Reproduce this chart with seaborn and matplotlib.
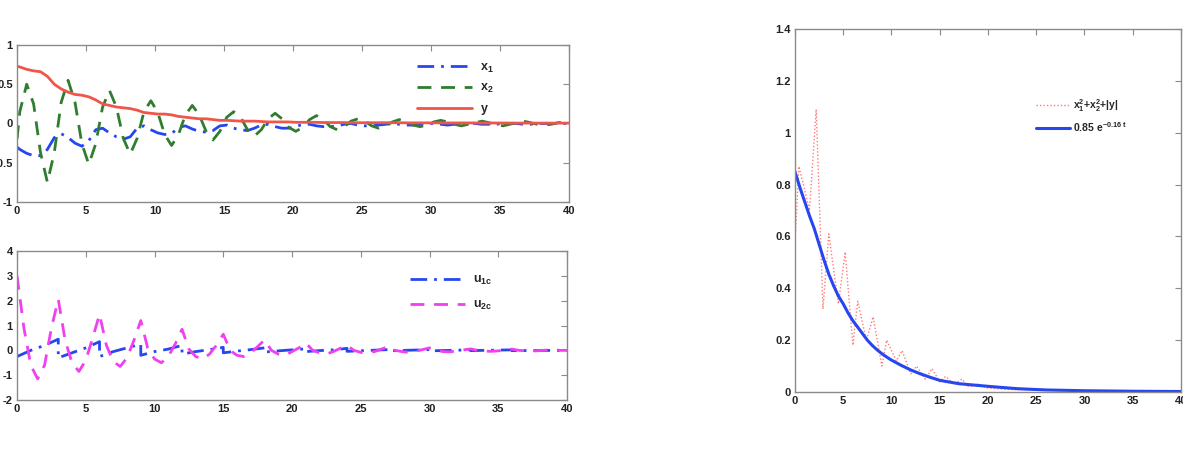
import numpy as np
import pandas as pd
import matplotlib
matplotlib.use('Agg')
import matplotlib.pyplot as plt
import seaborn as sns
from matplotlib.ticker import FormatStrFormatter

# Tempos do painel superior (picos do x2 caem na grade)
t_top = np.concatenate([[0], np.arange(0.2, 40, 0.5), [40]])

x1 = [-0.30, -0.33, -0.38, -0.41, -0.41, -0.33, -0.18, -0.13, -0.18, -0.25,
      -0.29, -0.22, -0.08, -0.06, -0.12, -0.17, -0.20, -0.17, -0.06, -0.03,
      -0.08, -0.12, -0.14, -0.13, -0.05, -0.03, -0.07, -0.10, -0.11, -0.09,
      -0.03, -0.02, -0.06, -0.08, -0.09, -0.06, -0.02, -0.01, -0.04, -0.06,
      -0.06, -0.04, -0.01, -0.01, -0.03, -0.04, -0.04, -0.03, -0.01, 0.00,
      -0.02, -0.03, -0.03, -0.02, -0.01, 0.00, -0.01, -0.02, -0.02, -0.01,
      0.00, 0.00, -0.01, -0.02, -0.01, -0.01, 0.00, 0.00, -0.01, -0.01,
      -0.01, 0.00, 0.00, 0.00, -0.01, -0.01, 0.00, 0.00, 0.00, 0.00,
      0.00, 0.00]

x2 = [-0.20, 0.15, 0.50, 0.25, -0.37, -0.75, -0.37, 0.27, 0.55, 0.27,
      -0.26, -0.52, -0.26, 0.21, 0.42, 0.21, -0.19, -0.39, -0.19, 0.15,
      0.29, 0.14, -0.14, -0.28, -0.14, 0.11, 0.23, 0.11, -0.10, -0.21,
      -0.10, 0.08, 0.15, 0.08, -0.08, -0.16, -0.08, 0.06, 0.13, 0.06,
      -0.05, -0.10, -0.05, 0.05, 0.10, 0.05, -0.04, -0.08, -0.04, 0.03,
      0.06, 0.03, -0.03, -0.06, -0.03, 0.02, 0.05, 0.02, -0.02, -0.04,
      -0.02, 0.02, 0.04, 0.02, -0.01, -0.03, -0.01, 0.01, 0.03, 0.01,
      -0.01, -0.03, -0.01, 0.01, 0.03, 0.01, -0.01, -0.02, -0.01, 0.01,
      0.02, 0.01]

y = [0.73, 0.72, 0.69, 0.67, 0.66, 0.60, 0.50, 0.44, 0.40, 0.37,
     0.36, 0.34, 0.30, 0.25, 0.23, 0.21, 0.20, 0.19, 0.17, 0.14,
     0.13, 0.12, 0.12, 0.11, 0.09, 0.08, 0.07, 0.06, 0.06, 0.05,
     0.04, 0.04, 0.035, 0.03, 0.03, 0.03, 0.025, 0.02, 0.02, 0.02,
     0.02, 0.015, 0.015, 0.015, 0.015, 0.012, 0.012, 0.012, 0.012, 0.01,
     0.01, 0.01, 0.01, 0.01, 0.01, 0.01, 0.01, 0.008, 0.008, 0.008,
     0.008, 0.008, 0.008, 0.007, 0.007, 0.007, 0.007, 0.007, 0.006, 0.006,
     0.006, 0.006, 0.006, 0.005, 0.005, 0.005, 0.005, 0.005, 0.005, 0.005,
     0.005, 0.005]

# Painel inferior
t_u2 = np.arange(0, 40.5, 0.5)
u2c = [3.00, 0.90, -0.60, -1.15, -0.60, 0.90, 2.05, 0.40, -0.50, -0.85,
       -0.40, 0.50, 1.45, 0.20, -0.45, -0.65, -0.30, 0.40, 1.20, 0.10,
       -0.35, -0.50, -0.25, 0.25, 0.85, 0.05, -0.25, -0.35, -0.15, 0.20,
       0.65, 0.00, -0.20, -0.25, -0.10, 0.15, 0.42, 0.00, -0.15, -0.20,
       -0.05, 0.10, 0.30, 0.00, -0.10, -0.15, -0.05, 0.08, 0.20, 0.00,
       -0.08, -0.10, -0.05, 0.05, 0.15, 0.00, -0.05, -0.08, -0.03, 0.03,
       0.10, 0.00, -0.05, -0.06, -0.02, 0.02, 0.06, 0.00, -0.03, -0.04,
       -0.02, 0.02, 0.05, 0.00, -0.02, -0.03, -0.01, 0.01, 0.03, 0.00,
       0.00]

t_u1 = [0, 1, 2, 3, 3, 4, 5, 6, 6, 7, 8, 9, 9, 10, 11, 12, 12, 13, 14, 15,
        15, 16, 17, 18, 18, 19, 20, 21, 21, 22, 23, 24, 24, 27, 27, 30, 30,
        33, 33, 36, 36, 40]
u1c = [-0.25, 0.00, 0.20, 0.45, -0.30, -0.10, 0.10, 0.35, -0.25, -0.05,
       0.10, 0.25, -0.20, -0.05, 0.05, 0.20, -0.15, -0.05, 0.03, 0.12,
       -0.10, -0.03, 0.03, 0.10, -0.07, -0.02, 0.02, 0.06, -0.05, -0.01,
       0.02, 0.08, -0.04, 0.03, -0.02, 0.03, -0.02, 0.02, -0.01, 0.02,
       -0.01, 0.00]

# Painel da direita
t_v = [0, 0.4, 1.0, 1.5, 2.2, 2.9, 3.5, 4.5, 5.2, 6.0, 6.5, 7.4, 8.1, 9.0,
       9.5, 10.5, 11.1, 12.0, 12.6, 13.5, 14.2, 15.0, 15.6, 16.5, 17.3, 18.0,
       19.0, 20.0, 22, 25, 30, 35, 40]
V = [0.58, 0.87, 0.78, 0.70, 1.09, 0.32, 0.61, 0.34, 0.54, 0.18, 0.35, 0.20,
     0.29, 0.10, 0.20, 0.12, 0.16, 0.07, 0.10, 0.05, 0.09, 0.04, 0.06, 0.03,
     0.05, 0.02, 0.03, 0.015, 0.01, 0.008, 0.005, 0.003, 0.002]

t_env = [0, 0.5, 1, 1.5, 2, 2.5, 3, 3.5, 4, 4.5, 5, 5.5, 6, 6.5, 7, 7.5, 8,
         8.5, 9, 9.5, 10, 11, 12, 13, 14, 15, 17, 20, 23, 26, 30, 35, 40]
env = [0.85, 0.79, 0.735, 0.68, 0.63, 0.57, 0.51, 0.455, 0.41, 0.37, 0.34,
       0.305, 0.275, 0.25, 0.225, 0.20, 0.18, 0.163, 0.148, 0.135, 0.123,
       0.103, 0.085, 0.07, 0.057, 0.045, 0.032, 0.022, 0.013, 0.008, 0.005,
       0.003, 0.002]

sns.set_style('white')
plt.rcParams['font.family'] = ['Liberation Sans', 'DejaVu Sans']
plt.rcParams['font.weight'] = 'bold'
plt.rcParams['mathtext.fontset'] = 'custom'
plt.rcParams['mathtext.bf'] = 'Liberation Sans:bold'
plt.rcParams['mathtext.rm'] = 'Liberation Sans:bold'
plt.rcParams['mathtext.it'] = 'Liberation Sans:bold'

azul = '#2646f0'
verde = '#2f7d2f'
vermelho = '#f0554a'
magenta = '#f040f0'

fig = plt.figure(figsize=(11.83, 4.49), dpi=100)
ax1 = fig.add_axes([0.0144, 0.5501, 0.4666, 0.3497])
ax2 = fig.add_axes([0.0144, 0.1091, 0.4649, 0.3318])
ax3 = fig.add_axes([0.672, 0.1269, 0.3263, 0.8085])


def estilo(ax):
    for s in ax.spines.values():
        s.set_color('#8a8a8a')
        s.set_linewidth(1.0)
    ax.tick_params(direction='in', length=4, width=0.8, color='#8a8a8a',
                   top=True, right=True, labelsize=8, labelcolor='#222222', pad=3)
    for lab in ax.get_xticklabels() + ax.get_yticklabels():
        lab.set_fontweight('bold')
    ax.xaxis.set_major_formatter(FormatStrFormatter('%g'))
    ax.yaxis.set_major_formatter(FormatStrFormatter('%g'))
    ax.set_xlabel('')
    ax.set_ylabel('')


# Superior esquerdo
sns.lineplot(x=t_top, y=x1, ax=ax1, color=azul, lw=2, estimator=None, sort=False,
             label=r'$\mathbf{x_1}$')
sns.lineplot(x=t_top, y=x2, ax=ax1, color=verde, lw=2, estimator=None, sort=False,
             label=r'$\mathbf{x_2}$')
sns.lineplot(x=t_top, y=y, ax=ax1, color=vermelho, lw=2, estimator=None, sort=False,
             label=r'$\mathbf{y}$')
ax1.lines[0].set_dashes([6, 2.5, 1, 2.5])
ax1.lines[1].set_dashes([5, 3.5])
ax1.set_xlim(0, 40)
ax1.set_ylim(-1, 1)
ax1.set_xticks(np.arange(0, 41, 5))
ax1.set_yticks([-1, -0.5, 0, 0.5, 1])
estilo(ax1)
ax1.legend(loc='upper left', bbox_to_anchor=(0.725, 0.895), frameon=False,
           borderaxespad=0, borderpad=0, handlelength=4.4, handletextpad=0.6,
           labelspacing=0.62, fontsize=9)

# Inferior esquerdo
sns.lineplot(x=t_u1, y=u1c, ax=ax2, color=azul, lw=2, estimator=None, sort=False,
             label=r'$\mathbf{u_{1c}}$')
sns.lineplot(x=t_u2, y=u2c, ax=ax2, color=magenta, lw=2, estimator=None, sort=False,
             label=r'$\mathbf{u_{2c}}$')
ax2.lines[0].set_dashes([6, 2.5, 1, 2.5])
ax2.lines[1].set_dashes([5, 3.5])
ax2.set_xlim(0, 40)
ax2.set_ylim(-2, 4)
ax2.set_xticks(np.arange(0, 41, 5))
ax2.set_yticks(np.arange(-2, 5, 1))
estilo(ax2)
ax2.legend(loc='upper left', bbox_to_anchor=(0.715, 0.845), frameon=False,
           borderaxespad=0, borderpad=0, handlelength=4.4, handletextpad=0.6,
           labelspacing=0.95, fontsize=9)

# Direita
sns.lineplot(x=t_v, y=V, ax=ax3, color='#ff7b7b', lw=1.0, estimator=None, sort=False,
             label=r'$\mathbf{x_1^2{+}x_2^2{+}|y|}$')
sns.lineplot(x=t_env, y=env, ax=ax3, color=azul, lw=2.2, estimator=None, sort=False,
             label=r'$\mathbf{0.85\ e^{-0.16\ t}}$')
ax3.lines[0].set_dashes([1, 1.5])
ax3.set_xlim(0, 40)
ax3.set_ylim(0, 1.4)
ax3.set_xticks(np.arange(0, 41, 5))
ax3.set_yticks(np.arange(0, 1.41, 0.2))
estilo(ax3)
ax3.legend(loc='upper left', bbox_to_anchor=(0.625, 0.812), frameon=False,
           borderaxespad=0, borderpad=0, handlelength=3.2, handletextpad=0.3,
           labelspacing=0.55, fontsize=7.5)

fig.savefig('out.png', dpi=100)
